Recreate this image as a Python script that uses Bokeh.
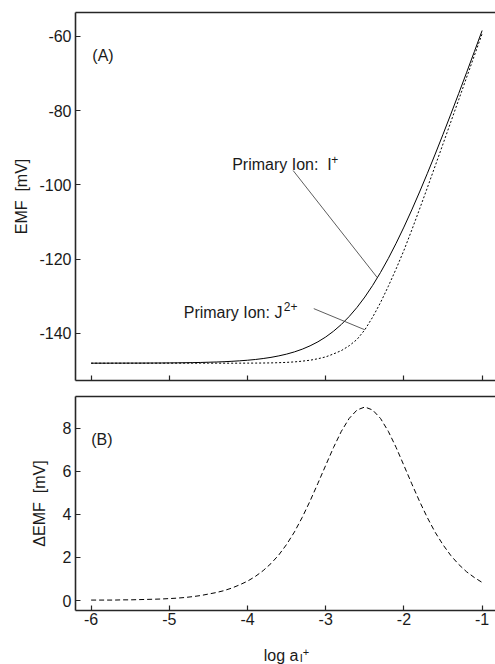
import numpy as np
from bokeh.plotting import figure
from bokeh.layouts import column
from bokeh.models import Range1d, LinearAxis, Label, FixedTicker
from bokeh.core.properties import value
from bokeh.embed import file_html
from bokeh.resources import INLINE

# ---- data -------------------------------------------------------------
# log of the primary-ion activity, -6 ... -1 in steps of 0.1
log_a = [round(v, 1) for v in np.arange(-6.0, -0.95, 0.1)]

# EMF response, primary ion I+  (mV)
emf_i = [-147.99, -147.99, -147.99, -147.98, -147.98, -147.97, -147.97, -147.96, -147.95, -147.94,
         -147.92, -147.90, -147.87, -147.84, -147.80, -147.74, -147.68, -147.60, -147.49, -147.36,
         -147.20, -147.00, -146.74, -146.43, -146.03, -145.55, -144.95, -144.22, -143.32, -142.24,
         -140.94, -139.38, -137.56, -135.42, -132.97, -130.18, -127.05, -123.58, -119.80, -115.70,
         -111.34, -106.72, -101.88, -96.86, -91.67, -86.35, -80.91, -75.39, -69.78, -64.12, -58.40]

# EMF response, primary ion J2+  (mV)
emf_j = [-148.00, -148.00, -148.00, -148.00, -148.00, -148.00, -148.00, -148.00, -148.00, -148.00,
         -148.00, -148.00, -148.00, -148.00, -148.00, -148.00, -148.00, -148.00, -148.00, -147.99,
         -147.98, -147.97, -147.95, -147.92, -147.86, -147.78, -147.65, -147.45, -147.20, -146.80,
         -146.30, -145.50, -144.60, -143.30, -141.60, -139.00, -135.60, -131.70, -127.30, -122.60,
         -117.60, -112.15, -106.49, -100.71, -94.84, -88.94, -83.00, -77.07, -71.12, -65.19, -59.24]

# difference between both responses (mV)
d_emf = [0.02, 0.02, 0.02, 0.02, 0.03, 0.03, 0.04, 0.05, 0.06, 0.07,
         0.09, 0.11, 0.14, 0.18, 0.23, 0.30, 0.37, 0.46, 0.58, 0.73,
         0.90, 1.12, 1.39, 1.72, 2.12, 2.61, 3.19, 3.87, 4.63, 5.45,
         6.29, 7.12, 7.87, 8.47, 8.86, 9.00, 8.86, 8.47, 7.87, 7.12,
         6.28, 5.43, 4.61, 3.85, 3.17, 2.59, 2.09, 1.68, 1.34, 1.07,
         0.84]

x_ticks = [-6, -5, -4, -3, -2, -1]
emf_ticks = [-140, -120, -100, -80, -60]
d_ticks = [0, 2, 4, 6, 8]

FONT = "Liberation Sans"
INK = "#1a1a1a"


def style_axis(ax, ticks, labels=True, standoff=3):
    ax.ticker = FixedTicker(ticks=ticks)
    ax.axis_line_width = 1.6
    ax.axis_line_color = "#262626"
    ax.major_tick_in = 5
    ax.major_tick_out = 0
    ax.major_tick_line_width = 1.2
    ax.major_tick_line_color = "#262626"
    ax.minor_tick_line_color = None
    ax.major_label_text_font = FONT
    ax.major_label_text_color = INK
    if labels:
        ax.major_label_text_font_size = "16px"
        ax.major_label_standoff = standoff
        # plain hyphen for negative numbers
        ax.major_label_overrides = {t: str(t) for t in ticks}
    else:
        ax.major_label_text_font_size = "0px"
        ax.major_label_standoff = 0
        ax.major_label_overrides = {t: "" for t in ticks}
    ax.axis_label_text_font = FONT
    ax.axis_label_text_font_size = "16px"
    ax.axis_label_text_font_style = "normal"
    ax.axis_label_text_color = INK


def frame_top(p):
    # plain line along the upper edge of the plotting area
    ax = LinearAxis(ticker=FixedTicker(ticks=[]))
    ax.axis_line_width = 1.6
    ax.axis_line_color = "#262626"
    ax.major_tick_in = 0
    ax.major_tick_out = 0
    ax.minor_tick_line_color = None
    ax.major_label_text_font_size = "0px"
    ax.major_label_standoff = 0
    p.add_layout(ax, "above")


def txt(p, x, y, s, size="16px", dx=0, dy=0):
    p.add_layout(Label(x=x, y=y, x_offset=dx, y_offset=dy, text=s,
                       text_font=FONT, text_font_size=size, text_color=INK,
                       text_baseline="alphabetic", text_align="left"))


X0, X1 = -6.2, -0.829

# ---- (A) EMF curves ----------------------------------------------------
p1 = figure(width=495, height=388, output_backend="svg", toolbar_location=None,
            x_range=Range1d(X0, X1), y_range=Range1d(-152.66, -53.54),
            min_border_left=75, min_border_right=0, min_border_top=12,
            min_border_bottom=8, outline_line_color=None)
p1.grid.visible = False
style_axis(p1.xaxis[0], x_ticks, labels=False)
style_axis(p1.yaxis[0], emf_ticks, labels=True, standoff=4)
p1.yaxis[0].axis_label = "EMF\u00a0 [mV]"
p1.yaxis[0].axis_label_standoff = 6
frame_top(p1)

p1.line(log_a, emf_i, line_color="black", line_width=1.0)
p1.line(log_a, emf_j, line_color="black", line_width=1.0, line_dash="2 2")

# leader lines from the labels to the curves
p1.line([-3.417, -2.34], [-96.1, float(np.interp(-2.34, log_a, emf_i))],
        line_color="#333333", line_width=0.8)
p1.line([-3.153, -2.5], [-133.3, float(np.interp(-2.5, log_a, emf_j))],
        line_color="#333333", line_width=0.8)

txt(p1, -5.985, -65.1, "(A)")
txt(p1, -4.197, -94.6, "Primary Ion:\u00a0 I")
txt(p1, -4.197, -94.6, "+", size="12px", dx=99, dy=5)
txt(p1, -4.816, -134.24, "Primary Ion: J")
txt(p1, -4.816, -134.24, "2+", size="12px", dx=100, dy=6)

# ---- (B) difference ----------------------------------------------------
p2 = figure(width=495, height=244, output_backend="svg", toolbar_location=None,
            x_range=p1.x_range, y_range=Range1d(-0.465, 9.488),
            min_border_left=75, min_border_right=0, min_border_top=8,
            min_border_bottom=22, outline_line_color=None)
p2.grid.visible = False
style_axis(p2.xaxis[0], x_ticks, labels=True, standoff=2)
style_axis(p2.yaxis[0], d_ticks, labels=True, standoff=4)
p2.yaxis[0].axis_label = "\u0394EMF\u00a0 [mV]"
p2.yaxis[0].axis_label_standoff = 12
frame_top(p2)

p2.line(log_a, d_emf, line_color="black", line_width=1.0, line_dash="5 3")

txt(p2, -6.0, 7.51, "(B)")

# ---- x axis title strip ------------------------------------------------
p3 = figure(width=495, height=32, output_backend="svg", toolbar_location=None,
            x_range=p1.x_range, y_range=Range1d(0, 32),
            x_axis_type=None, y_axis_type=None,
            min_border_left=75, min_border_right=0, min_border_top=0,
            min_border_bottom=0, outline_line_color=None)
p3.grid.visible = False
common = dict(text_font=value(FONT), text_color=INK,
              text_baseline="alphabetic", text_align="left")
p3.text(x=[-3.792], y=[9], text=["log a"], text_font_size="16px", **common)
p3.text(x=[-3.792], y=[6.5], text=["I"], text_font_size="11px", x_offset=36, **common)
p3.text(x=[-3.792], y=[13], text=["+"], text_font_size="11px", x_offset=39, **common)

layout = column(p1, p2, p3)
open("out.html", "w").write(file_html(layout, INLINE))
